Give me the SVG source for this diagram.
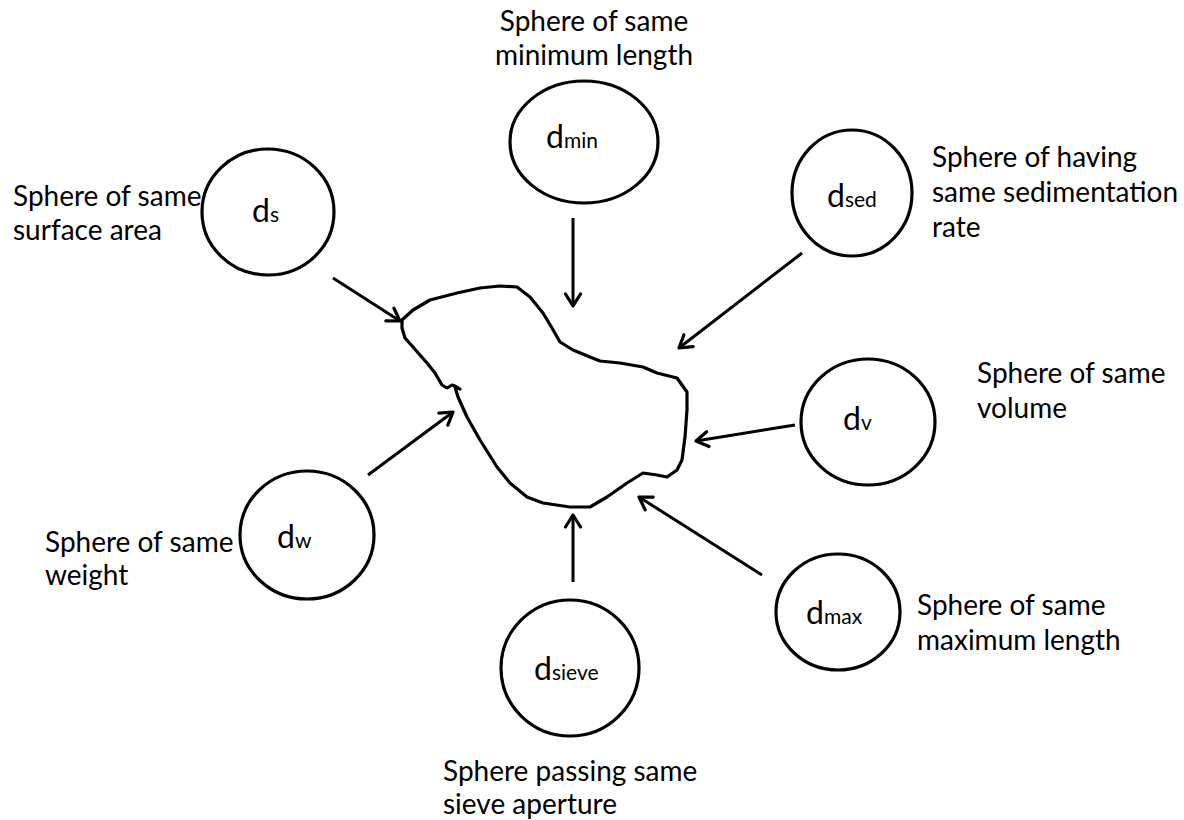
<svg xmlns="http://www.w3.org/2000/svg" width="1184" height="820" viewBox="0 0 1184 820">
<style>
.node{fill:#fff;stroke:#000;stroke-width:3.2}
.lbl{font-family:Lato,"Open Sans","Liberation Sans",sans-serif;font-size:28px;fill:#000}
.d{font-family:Lato,"Open Sans","Liberation Sans",sans-serif;font-size:32px;fill:#000}
.sub{font-size:21px}
.arrow{stroke:#000;stroke-width:3;fill:none;marker-end:url(#ah)}
</style>
<defs>
<marker id="ah" markerUnits="userSpaceOnUse" markerWidth="22" markerHeight="22" refX="14" refY="9" orient="auto" viewBox="0 0 22 18">
<path d="M2,1.5 L14,9 L2,16.5" fill="none" stroke="#000" stroke-width="3.2" stroke-linecap="round" stroke-linejoin="round"/>
</marker>
</defs>
<rect width="1184" height="820" fill="#fff"/>
<g id="particle">
<path d="M402,320 L413,310 L430,300 L457,293 L480,288 L500,286 L517,287 L530,297 L543,313 L552,328 L560,342 L573,350 L590,357 L600,361 L620,363 L643,367 L657,373 L677,378 L687,392 L687,410 L685,437 L682,460 L677,470 L667,477 L657,475 L643,473 L627,483 L607,497 L590,507 L570,507 L543,503 L527,497 L510,483 L497,467 L480,440 L467,417 L458,397 L455,387 L460,389 L455,386 L452,385 L447,388 L442,385 L435,373 L427,363 L413,347 L405,338 L402,328 Z" fill="none" stroke="#000" stroke-width="3.2" stroke-linejoin="round" stroke-linecap="round"/>
</g>
<g id="connectors">
<line class="arrow" x1="333" y1="278" x2="400" y2="321"/>
<line class="arrow" x1="573" y1="218" x2="573" y2="306"/>
<line class="arrow" x1="802" y1="253" x2="679" y2="348"/>
<line class="arrow" x1="795" y1="425" x2="696" y2="441"/>
<line class="arrow" x1="762" y1="575" x2="639" y2="497"/>
<line class="arrow" x1="573" y1="582" x2="573" y2="515"/>
<line class="arrow" x1="368" y1="475" x2="453" y2="412"/>
</g>
<g id="node-ds">
<ellipse class="node" cx="268" cy="212" rx="66" ry="63"/>
<text class="d" x="252" y="222">d<tspan class="sub">s</tspan></text>
<text class="lbl" x="13" y="206">Sphere of same</text>
<text class="lbl" x="13" y="240">surface area</text>
</g>
<g id="node-dmin">
<ellipse class="node" cx="584" cy="142" rx="74" ry="61"/>
<text class="d" x="546" y="148">d<tspan class="sub">min</tspan></text>
<text class="lbl" x="594" y="31" text-anchor="middle">Sphere of same</text>
<text class="lbl" x="594" y="65" text-anchor="middle">minimum length</text>
</g>
<g id="node-dsed">
<ellipse class="node" cx="852" cy="193" rx="60" ry="63"/>
<text class="d" x="827" y="207">d<tspan class="sub">sed</tspan></text>
<text class="lbl" x="932" y="167">Sphere of having</text>
<text class="lbl" x="932" y="202">same sedimentation</text>
<text class="lbl" x="932" y="237">rate</text>
</g>
<g id="node-dv">
<ellipse class="node" cx="868" cy="422" rx="67" ry="63"/>
<text class="d" x="843" y="430">d<tspan class="sub">v</tspan></text>
<text class="lbl" x="977" y="383">Sphere of same</text>
<text class="lbl" x="977" y="418">volume</text>
</g>
<g id="node-dw">
<ellipse class="node" cx="307" cy="535" rx="67" ry="64"/>
<text class="d" x="277" y="548">d<tspan class="sub">w</tspan></text>
<text class="lbl" x="45" y="552">Sphere of same</text>
<text class="lbl" x="45" y="585">weight</text>
</g>
<g id="node-dmax">
<ellipse class="node" cx="838" cy="612" rx="62" ry="58"/>
<text class="d" x="806" y="624">d<tspan class="sub">max</tspan></text>
<text class="lbl" x="917" y="615">Sphere of same</text>
<text class="lbl" x="917" y="650">maximum length</text>
</g>
<g id="node-dsieve">
<ellipse class="node" cx="570" cy="668" rx="69" ry="68"/>
<text class="d" x="534" y="680">d<tspan class="sub">sieve</tspan></text>
<text class="lbl" x="443" y="781">Sphere passing same</text>
<text class="lbl" x="443" y="814">sieve aperture</text>
</g>
</svg>
